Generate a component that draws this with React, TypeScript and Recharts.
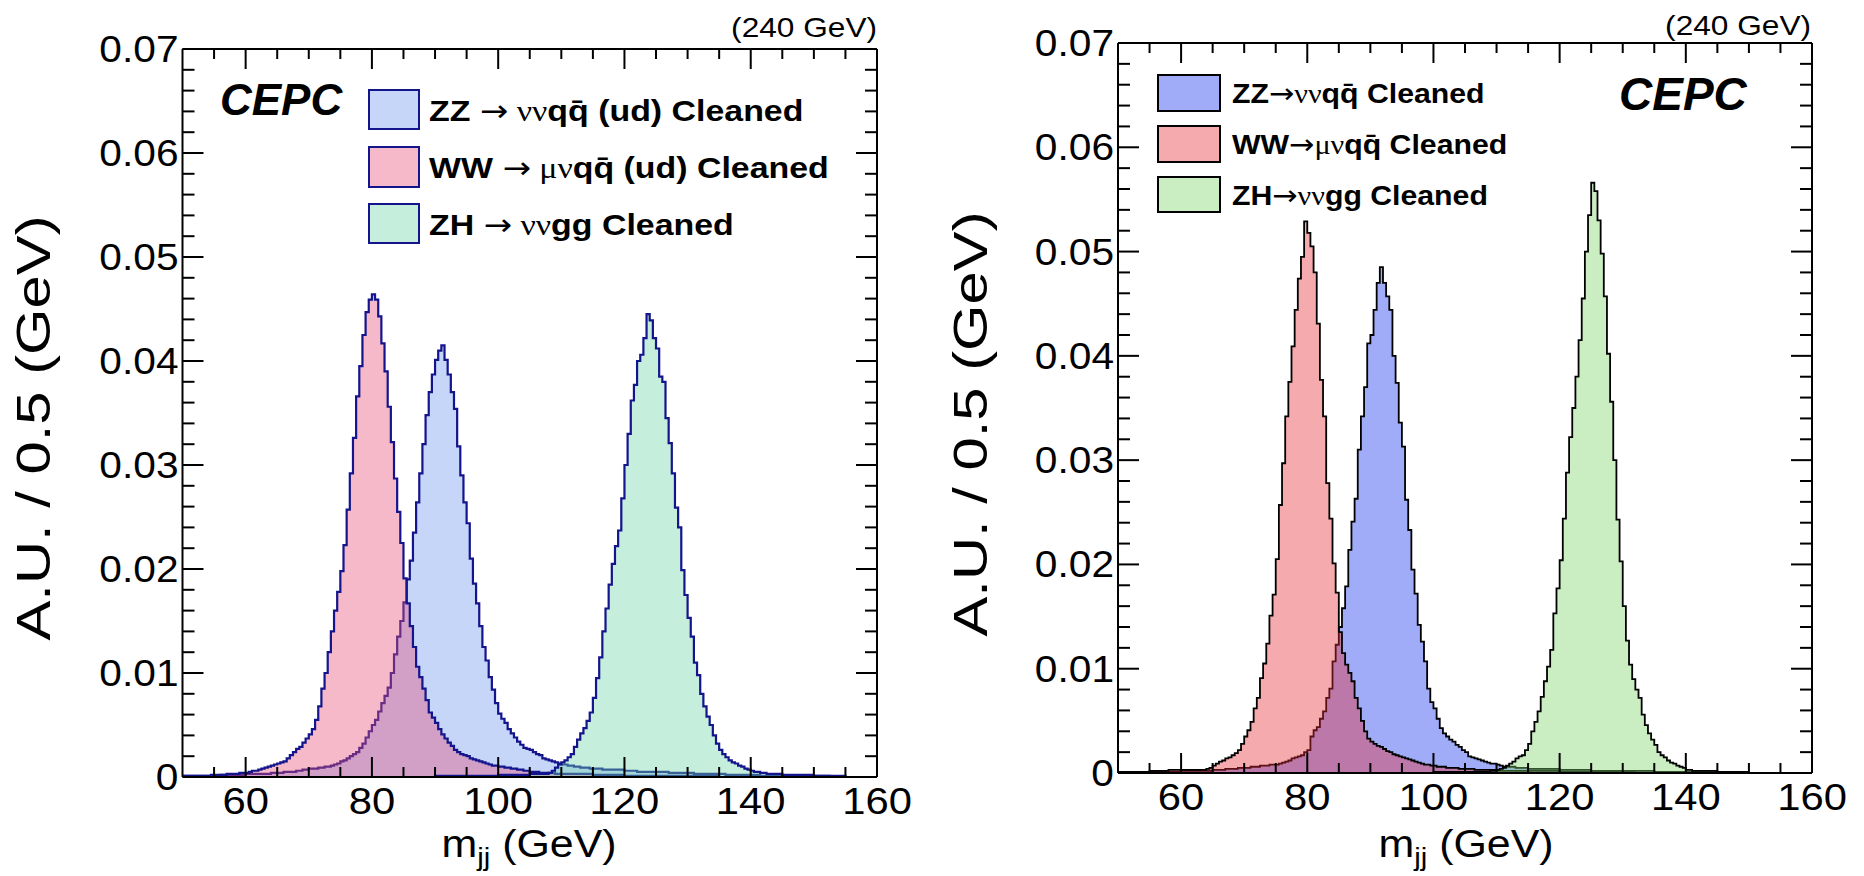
import { Area, ComposedChart, XAxis, YAxis } from 'recharts';

const FONT = '"Liberation Sans", Arial, Helvetica, sans-serif';
const SERIF = '"Liberation Serif", "DejaVu Serif", serif';
const ARROW_FONT = '"DejaVu Sans", sans-serif';
// ROOT's Helvetica comes out a bit wider than Liberation Sans
const SX = 1.13;

const BIN_START = 50;
const BIN_WIDTH = 0.5;

// bin contents in units of 1e-4 A.U., one value per 0.5 GeV bin, 50 -> 160 GeV (20 bins per row)
const zzLeft = [
  1, 1, 1, 1, 1, 1, 1, 1, 1, 1, 1, 1, 2, 2, 2, 2, 2, 2, 2, 2,
  3, 3, 3, 3, 3, 3, 3, 3, 4, 4, 4, 4, 5, 5, 5, 5, 6, 6, 7, 7,
  8, 8, 8, 9, 9, 10, 10, 11, 12, 13, 15, 16, 18, 20, 22, 24, 28, 32, 38, 44,
  50, 55, 63, 71, 78, 86, 100, 118, 135, 150, 168, 190, 208, 235, 264, 292, 320, 348, 370, 387,
  401, 410, 415, 401, 387, 370, 354, 318, 290, 264, 244, 210, 186, 167, 145, 125, 112, 96, 84, 71,
  61, 56, 52, 46, 42, 38, 34, 31, 28, 27, 26, 24, 22, 21, 18, 17, 16, 15, 14, 13,
  12, 12, 11, 11, 10, 10, 9, 9, 9, 8, 8, 8, 8, 7, 7, 7, 7, 7, 7, 7,
  6, 6, 6, 6, 5, 5, 5, 5, 5, 5, 5, 5, 5, 5, 4, 4, 4, 4, 4, 4,
  4, 4, 3, 3, 3, 3, 3, 3, 3, 3, 3, 3, 2, 2, 2, 2, 2, 2, 2, 2,
  2, 2, 2, 1, 1, 1, 1, 1, 1, 1, 1, 1, 1, 1, 1, 1, 1, 1, 1, 1,
  1, 1, 1, 1, 1, 0, 0, 0, 0, 0, 0, 0, 0, 0, 0, 0, 0, 0, 0, 0,
];
const wwLeft = [
  1, 1, 1, 1, 1, 1, 1, 1, 1, 2, 2, 2, 2, 2, 3, 3, 3, 3, 4, 4,
  4, 5, 6, 6, 7, 8, 9, 10, 11, 12, 13, 14, 15, 18, 21, 24, 27, 29, 33, 37,
  41, 46, 55, 68, 85, 100, 120, 140, 160, 178, 198, 223, 257, 292, 326, 366, 395, 425, 447, 459,
  464, 459, 443, 417, 390, 356, 322, 287, 255, 225, 191, 167, 145, 125, 106, 96, 85, 74, 62, 57,
  52, 46, 41, 37, 33, 30, 26, 24, 22, 21, 20, 18, 17, 16, 15, 14, 13, 12, 11, 11,
  10, 10, 9, 9, 8, 8, 7, 7, 6, 6, 5, 5, 5, 4, 4, 4, 4, 4, 3, 3,
  3, 3, 3, 3, 3, 3, 3, 3, 3, 3, 2, 2, 2, 2, 2, 2, 2, 2, 2, 2,
  1, 1, 1, 1, 1, 1, 1, 1, 1, 1, 1, 1, 1, 1, 1, 1, 1, 1, 1, 1,
  1, 1, 1, 1, 1, 1, 1, 1, 1, 1, 0, 0, 0, 0, 0, 0, 0, 0, 0, 0,
  0, 0, 0, 0, 0, 0, 0, 0, 0, 0, 0, 0, 0, 0, 0, 0, 0, 0, 0, 0,
  0, 0, 0, 0, 0, 0, 0, 0, 0, 0, 0, 0, 0, 0, 0, 0, 0, 0, 0, 0,
];
const zhLeft = [
  0, 0, 0, 0, 0, 0, 0, 0, 0, 0, 0, 0, 0, 0, 0, 0, 0, 0, 0, 0,
  0, 0, 0, 0, 0, 0, 0, 0, 0, 0, 0, 0, 0, 0, 0, 0, 0, 0, 0, 0,
  0, 0, 0, 0, 0, 0, 0, 0, 0, 0, 0, 0, 0, 0, 0, 0, 0, 0, 0, 0,
  0, 0, 0, 0, 0, 0, 0, 0, 0, 0, 0, 0, 0, 0, 0, 0, 0, 0, 0, 0,
  1, 1, 1, 1, 1, 1, 1, 1, 1, 1, 1, 1, 1, 1, 1, 1, 1, 1, 1, 1,
  2, 2, 2, 2, 2, 2, 2, 2, 2, 2, 3, 3, 3, 3, 3, 3, 4, 6, 9, 12,
  14, 16, 19, 22, 29, 36, 42, 47, 54, 62, 76, 95, 115, 140, 162, 185, 205, 222, 237, 268,
  300, 330, 362, 377, 400, 406, 422, 445, 439, 422, 412, 385, 380, 345, 321, 292, 259, 240, 199, 175,
  153, 135, 110, 98, 80, 68, 58, 50, 40, 32, 26, 22, 19, 16, 14, 13, 11, 10, 8, 7,
  6, 5, 5, 4, 4, 3, 3, 3, 3, 3, 2, 2, 2, 2, 2, 2, 2, 2, 2, 2,
  1, 1, 1, 1, 1, 1, 1, 1, 1, 1, 0, 0, 0, 0, 0, 0, 0, 0, 0, 0,
];

const zzRight = [
  0, 0, 1, 1, 1, 1, 1, 1, 1, 1, 1, 1, 1, 1, 1, 1, 1, 1, 1, 1,
  2, 2, 2, 2, 2, 2, 2, 2, 2, 2, 3, 3, 3, 3, 4, 4, 4, 4, 5, 5,
  5, 5, 6, 6, 6, 7, 7, 7, 8, 8, 8, 9, 10, 11, 12, 14, 15, 16, 17, 20,
  22, 35, 41, 44, 52, 59, 72, 81, 107, 123, 140, 158, 179, 214, 241, 263, 310, 342, 370, 412,
  420, 444, 470, 485, 470, 457, 444, 400, 374, 336, 313, 262, 233, 195, 172, 142, 126, 107, 81, 68,
  62, 52, 43, 38, 35, 32, 30, 27, 25, 22, 20, 16, 15, 14, 13, 12, 11, 10, 9, 9,
  8, 7, 6, 6, 6, 6, 5, 5, 5, 5, 4, 4, 4, 4, 4, 4, 4, 4, 4, 4,
  3, 3, 3, 3, 3, 3, 3, 3, 3, 3, 2, 2, 2, 2, 2, 2, 2, 2, 2, 2,
  2, 2, 2, 2, 2, 2, 2, 2, 2, 2, 1, 1, 1, 1, 1, 1, 1, 1, 1, 1,
  1, 1, 1, 1, 1, 1, 1, 1, 1, 1, 0, 0, 0, 0, 0, 0, 0, 0, 0, 0,
  0, 0, 0, 0, 0, 0, 0, 0, 0, 0, 0, 0, 0, 0, 0, 0, 0, 0, 0, 0,
];
const wwRight = [
  1, 1, 1, 1, 1, 1, 1, 1, 1, 1, 2, 2, 2, 2, 2, 2, 3, 3, 3, 3,
  3, 3, 3, 3, 3, 3, 3, 3, 4, 5, 7, 9, 11, 12, 14, 15, 17, 19, 22, 28,
  35, 41, 49, 62, 72, 91, 105, 124, 151, 171, 205, 257, 297, 342, 375, 409, 444, 474, 495, 529,
  518, 505, 480, 431, 377, 342, 278, 244, 201, 173, 135, 115, 104, 96, 88, 72, 62, 50, 40, 33,
  30, 28, 26, 25, 23, 21, 20, 18, 17, 16, 15, 14, 13, 12, 11, 10, 9, 8, 8, 7,
  7, 6, 6, 6, 5, 5, 5, 5, 4, 4, 4, 4, 4, 3, 3, 3, 3, 3, 3, 3,
  2, 2, 2, 2, 2, 2, 2, 2, 2, 2, 2, 2, 2, 2, 2, 2, 2, 2, 2, 2,
  1, 1, 1, 1, 1, 1, 1, 1, 1, 1, 1, 1, 1, 1, 1, 1, 1, 1, 1, 1,
  1, 1, 1, 1, 0, 0, 0, 0, 0, 0, 0, 0, 0, 0, 0, 0, 0, 0, 0, 0,
  0, 0, 0, 0, 0, 0, 0, 0, 0, 0, 0, 0, 0, 0, 0, 0, 0, 0, 0, 0,
  0, 0, 0, 0, 0, 0, 0, 0, 0, 0, 0, 0, 0, 0, 0, 0, 0, 0, 0, 0,
];
const zhRight = [
  0, 0, 0, 0, 0, 0, 0, 0, 0, 0, 0, 0, 0, 0, 0, 0, 0, 0, 0, 0,
  0, 0, 0, 0, 0, 0, 0, 0, 0, 0, 0, 0, 0, 0, 0, 0, 0, 0, 0, 0,
  0, 0, 0, 0, 0, 0, 0, 0, 0, 0, 0, 0, 0, 0, 0, 0, 0, 0, 0, 0,
  0, 0, 0, 0, 0, 0, 0, 0, 0, 0, 0, 0, 0, 0, 0, 0, 0, 0, 0, 0,
  0, 0, 0, 0, 0, 0, 0, 0, 0, 0, 0, 0, 0, 0, 0, 0, 0, 0, 0, 0,
  1, 1, 1, 1, 1, 1, 1, 1, 1, 1, 1, 1, 1, 1, 1, 1, 1, 1, 2, 2,
  3, 4, 5, 7, 9, 11, 14, 16, 17, 22, 28, 40, 49, 59, 73, 88, 102, 118, 153, 177,
  204, 244, 288, 322, 350, 380, 415, 455, 500, 535, 566, 558, 530, 498, 457, 402, 356, 300, 243, 203,
  160, 127, 104, 90, 80, 72, 56, 46, 38, 32, 27, 20, 17, 15, 12, 10, 9, 7, 6, 5,
  3, 3, 2, 2, 2, 2, 2, 2, 2, 2, 1, 1, 1, 1, 1, 1, 1, 1, 1, 1,
  0, 0, 0, 0, 0, 0, 0, 0, 0, 0, 0, 0, 0, 0, 0, 0, 0, 0, 0, 0,
];

const xTicks = [50, 55, 60, 65, 70, 75, 80, 85, 90, 95, 100, 105, 110, 115, 120, 125, 130, 135, 140, 145, 150, 155, 160];
const xLabelled = [60, 80, 100, 120, 140, 160];
const yTicks = [
  0, 0.002, 0.004, 0.006, 0.008, 0.01, 0.012, 0.014, 0.016, 0.018, 0.02, 0.022, 0.024, 0.026, 0.028,
  0.03, 0.032, 0.034, 0.036, 0.038, 0.04, 0.042, 0.044, 0.046, 0.048, 0.05, 0.052, 0.054, 0.056,
  0.058, 0.06, 0.062, 0.064, 0.066, 0.068, 0.07,
];
const yLabelled = [0, 0.01, 0.02, 0.03, 0.04, 0.05, 0.06, 0.07];

function toRows(zz: number[], ww: number[], zh: number[]) {
  const rows = zz.map((_, i) => ({
    m: BIN_START + i * BIN_WIDTH,
    zz: zz[i] / 1e4,
    ww: ww[i] / 1e4,
    zh: zh[i] / 1e4,
  }));
  // closing edge so the last step reaches 160
  const last = zz.length - 1;
  rows.push({ m: BIN_START + zz.length * BIN_WIDTH, zz: zz[last] / 1e4, ww: ww[last] / 1e4, zh: zh[last] / 1e4 });
  return rows;
}

const isMajorX = (v: number) => xLabelled.includes(v);
const isMajorY = (v: number) => yLabelled.some((t) => Math.abs(t - v) < 1e-9);
const fmtY = (v: number) => (v === 0 ? '0' : String(+v.toFixed(2)));

function BottomTick({ x, y, payload }: any) {
  const v = payload.value;
  const major = isMajorX(v);
  return (
    <g>
      {v > 50 && v < 160 && <line x1={x} x2={x} y1={y} y2={y - (major ? 20 : 10)} stroke="#000" strokeWidth={2} />}
      {major && (
        <text transform={`translate(${x},${y + 37}) scale(${SX},1)`} textAnchor="middle" fontSize={37} fontFamily={FONT}>
          {v}
        </text>
      )}
    </g>
  );
}

function TopTick({ x, y, payload }: any) {
  const v = payload.value;
  if (v <= 50 || v >= 160) return <g />;
  return <line x1={x} x2={x} y1={y} y2={y + (isMajorX(v) ? 20 : 10)} stroke="#000" strokeWidth={2} />;
}

function LeftTick({ x, y, payload }: any) {
  const v = payload.value;
  const major = isMajorY(v);
  return (
    <g>
      <line x1={x} x2={x + (major ? 21 : 12)} y1={y} y2={y} stroke="#000" strokeWidth={2} />
      {major && (
        <text transform={`translate(${x - 4},${y}) scale(${SX},1)`} textAnchor="end" dy="0.36em" fontSize={36} fontFamily={FONT}>
          {fmtY(v)}
        </text>
      )}
    </g>
  );
}

function RightTick({ x, y, payload }: any) {
  const major = isMajorY(payload.value);
  return <line x1={x} x2={x - (major ? 21 : 12)} y1={y} y2={y} stroke="#000" strokeWidth={2} />;
}

interface PanelProps {
  rows: ReturnType<typeof toRows>;
  frame: { top: number; right: number; bottom: number; left: number };
  outline: string;
  lineWidth: number;
  fills: { zz: string; ww: string; zh: string };
}

// axis bands around the frame; margins are reduced by these so the frame lands where it should
const AX_LEFT = 60;
const AX_RIGHT = 20;
const AX_BOTTOM = 40;
const AX_TOP = 20;

function Panel({ rows, frame, outline, lineWidth, fills }: PanelProps) {
  const line = { stroke: '#000', strokeWidth: 2 };
  const margin = {
    top: frame.top - AX_TOP,
    right: frame.right - AX_RIGHT,
    bottom: frame.bottom - AX_BOTTOM,
    left: frame.left - AX_LEFT,
  };
  const series = (key: 'zz' | 'ww' | 'zh') => (
    <Area
      key={key}
      xAxisId="b"
      yAxisId="l"
      type="stepAfter"
      dataKey={key}
      stroke={outline}
      strokeWidth={lineWidth}
      fill={fills[key]}
      fillOpacity={0.4}
      dot={false}
      activeDot={false}
      isAnimationActive={false}
    />
  );
  return (
    <ComposedChart width={932} height={876} data={rows} margin={margin}>
      <XAxis xAxisId="b" type="number" dataKey="m" domain={[50, 160]} ticks={xTicks} interval={0} height={AX_BOTTOM}
        tickSize={0} tickMargin={0} axisLine={line} tickLine={false} tick={BottomTick} allowDataOverflow />
      <XAxis xAxisId="t" orientation="top" type="number" dataKey="m" domain={[50, 160]} ticks={xTicks} interval={0}
        height={AX_TOP} tickSize={0} tickMargin={0} axisLine={line} tickLine={false} tick={TopTick} allowDataOverflow />
      <YAxis yAxisId="l" type="number" domain={[0, 0.07]} ticks={yTicks} interval={0} width={AX_LEFT}
        tickSize={0} tickMargin={0} axisLine={line} tickLine={false} tick={LeftTick} allowDataOverflow />
      <YAxis yAxisId="r" orientation="right" type="number" domain={[0, 0.07]} ticks={yTicks} interval={0} width={AX_RIGHT}
        tickSize={0} tickMargin={0} axisLine={line} tickLine={false} tick={RightTick} allowDataOverflow />
      {series('zz')}
      {series('ww')}
      {series('zh')}
    </ComposedChart>
  );
}

const leftFills = { zz: '#6e98ee', ww: '#e6507a', zh: '#6ed7a8' };
const rightFills = { zz: '#1230eb', ww: '#e62b35', zh: '#7ad566' };
const NAVY = '#14148c';

function Stretched({ x, y, anchor = 'start', size, weight, style, sx = SX, children }: any) {
  return (
    <text transform={`translate(${x},${y}) scale(${sx},1)`} textAnchor={anchor} fontSize={size}
      fontWeight={weight} fontStyle={style} fontFamily={FONT}>
      {children}
    </text>
  );
}

function Sym({ children }: any) {
  return <tspan fontFamily={SERIF} fontWeight="normal">{children}</tspan>;
}

function Arrow() {
  return <tspan fontFamily={ARROW_FONT} fontWeight="normal">→</tspan>;
}

function Overlay() {
  const q = 'q\u0304';
  const leftRows = [
    { y: 90, h: 39, fill: leftFills.zz, label: <>ZZ <Arrow /><Sym> νν</Sym>q{q} (ud) Cleaned</> },
    { y: 147, h: 40, fill: leftFills.ww, label: <>WW <Arrow /><Sym> μν</Sym>q{q} (ud) Cleaned</> },
    { y: 204, h: 39, fill: leftFills.zh, label: <>ZH <Arrow /><Sym> νν</Sym>gg Cleaned</> },
  ];
  const rightRows = [
    { y: 75, h: 36, fill: rightFills.zz, label: <>ZZ<Arrow /><Sym>νν</Sym>q{q} Cleaned</> },
    { y: 126, h: 36, fill: rightFills.ww, label: <>WW<Arrow /><Sym>μν</Sym>q{q} Cleaned</> },
    { y: 177, h: 35, fill: rightFills.zh, label: <>ZH<Arrow /><Sym>νν</Sym>gg Cleaned</> },
  ];
  const xTitle = (cx: number) => (
    <Stretched x={cx} y={857} anchor="middle" size={38}>
      m<tspan dy={9} fontSize={26}>jj</tspan>
      <tspan dy={-9}> (GeV)</tspan>
    </Stretched>
  );
  const yTitle = (bx: number, cy: number) => (
    <text transform={`translate(${bx},${cy}) rotate(-90) scale(1.22,1)`} textAnchor="middle" fontSize={49} fontFamily={FONT}>
      A.U. / 0.5 (GeV)
    </text>
  );
  return (
    <svg width={1864} height={876} style={{ position: 'absolute', left: 0, top: 0, pointerEvents: 'none' }}>
      <Stretched x={877} y={37} anchor="end" size={28}>(240 GeV)</Stretched>
      <Stretched x={1811} y={35} anchor="end" size={28}>(240 GeV)</Stretched>
      <text x={220} y={115} fontSize={44} fontWeight="bold" fontStyle="italic" fontFamily={FONT}>CEPC</text>
      <text x={1619} y={110} fontSize={46} fontWeight="bold" fontStyle="italic" fontFamily={FONT}>CEPC</text>
      {leftRows.map((r) => (
        <g key={r.y}>
          <rect x={369} y={r.y} width={50} height={r.h} fill={r.fill} fillOpacity={0.4} stroke={NAVY} strokeWidth={2} />
          <Stretched x={429} y={r.y + r.h / 2 + 11} size={30} weight="bold">{r.label}</Stretched>
        </g>
      ))}
      {rightRows.map((r) => (
        <g key={r.y}>
          <rect x={1158} y={r.y} width={62} height={r.h} fill={r.fill} fillOpacity={0.4} stroke="#000" strokeWidth={2} />
          <Stretched x={1232} y={r.y + r.h / 2 + 10} size={28} weight="bold" sx={1.08}>{r.label}</Stretched>
        </g>
      ))}
      {xTitle(529)}
      {xTitle(1466)}
      {yTitle(50, 428)}
      {yTitle(987, 424)}
    </svg>
  );
}

export default function App() {
  const left = toRows(zzLeft, wwLeft, zhLeft);
  const right = toRows(zzRight, wwRight, zhRight);
  return (
    <div style={{ position: 'absolute', left: 0, top: 0, width: 1864, height: 876, background: '#fff' }}>
      <div style={{ position: 'absolute', left: 0, top: 0 }}>
        <Panel rows={left} frame={{ top: 49, right: 55, bottom: 99, left: 182.5 }} outline={NAVY} lineWidth={2.2} fills={leftFills} />
      </div>
      <div style={{ position: 'absolute', left: 932, top: 0 }}>
        <Panel rows={right} frame={{ top: 43, right: 52, bottom: 103, left: 186 }} outline="#000" lineWidth={1.8} fills={rightFills} />
      </div>
      <Overlay />
    </div>
  );
}
